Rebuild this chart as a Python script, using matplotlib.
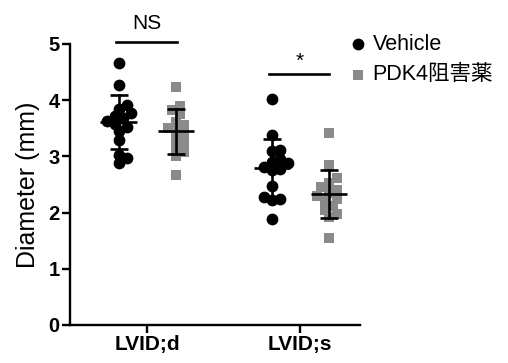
import numpy as np
import matplotlib
matplotlib.use("Agg")
import matplotlib.pyplot as plt

plt.rcParams['font.family'] = ['Liberation Sans', 'Noto Sans CJK JP', 'DejaVu Sans']

# data (mm)
categories = ['LVID;d', 'LVID;s']
groups = ['Vehicle', 'PDK4阻害薬']
vehicle_d = [4.67, 4.27, 3.92, 3.85, 3.78, 3.72, 3.68, 3.63, 3.58, 3.52, 3.45, 3.30, 3.02, 2.97, 2.88]
pdk4_d = [4.24, 3.90, 3.82, 3.75, 3.62, 3.55, 3.50, 3.45, 3.40, 3.30, 3.22, 3.15, 3.08, 3.00, 2.67]
vehicle_s = [4.02, 3.38, 3.12, 3.10, 2.95, 2.90, 2.88, 2.82, 2.78, 2.75, 2.47, 2.28, 2.25, 2.22, 1.88]
pdk4_s = [3.42, 2.85, 2.62, 2.52, 2.45, 2.40, 2.35, 2.30, 2.25, 2.20, 2.12, 2.05, 1.98, 1.92, 1.55]
marks = ['NS', '*']


def swarm(values, step_x, min_dist, y_scale):
    # simple beeswarm: place each point at the closest free offset
    order = np.argsort(values)
    placed = []
    offsets = np.zeros(len(values))
    for idx in order:
        y = values[idx] * y_scale
        k = 0
        while True:
            cands = [0] if k == 0 else [k, -k]
            ok = None
            for c in cands:
                x = c * step_x
                if all((x - px) ** 2 + (y - py) ** 2 >= min_dist ** 2 for px, py in placed):
                    ok = x
                    break
            if ok is not None:
                break
            k += 1
        placed.append((ok, y))
        offsets[idx] = ok
    return offsets


fig = plt.figure(figsize=(5.08, 3.63), dpi=100)
ax = fig.add_axes([70 / 508, 38 / 363, 290 / 508, 281 / 363])

px_per_unit_x = 153.0
px_per_unit_y = 56.2
half = 28.5 / px_per_unit_x

series = [
    (0 - half, vehicle_d, 'o', 'black', 72),
    (0 + half, pdk4_d, 's', '#8a8a8a', 62),
    (1 - half, vehicle_s, 'o', 'black', 72),
    (1 + half, pdk4_s, 's', '#8a8a8a', 62),
]

handles = []
for i, (xc, vals, mk, col, sz) in enumerate(series):
    vals = np.array(vals)
    off = swarm(vals, 4.0, 7.5, px_per_unit_y) / px_per_unit_x
    h = ax.scatter(xc + off, vals, marker=mk, s=sz, color=col, linewidths=0, zorder=2)
    if i < 2:
        handles.append(h)
    m = vals.mean()
    sd = vals.std(ddof=1)
    mw = 18 / px_per_unit_x
    cw = 9 / px_per_unit_x
    ax.plot([xc - mw, xc + mw], [m, m], color='black', lw=1.9, zorder=3, solid_capstyle='butt')
    ax.plot([xc, xc], [m - sd, m + sd], color='black', lw=1.9, zorder=3)
    ax.plot([xc - cw, xc + cw], [m + sd, m + sd], color='black', lw=1.9, zorder=3, solid_capstyle='butt')
    ax.plot([xc - cw, xc + cw], [m - sd, m - sd], color='black', lw=1.9, zorder=3, solid_capstyle='butt')

# significance brackets
ax.plot([-0.203, 0.196], [5.04, 5.04], color='black', lw=1.9, clip_on=False)
ax.text(0, 5.2, marks[0], ha='center', va='bottom', fontsize=15)
ax.plot([0.797, 1.19], [4.47, 4.47], color='black', lw=1.9, clip_on=False)
ax.text(1.0, 4.52, marks[1], ha='center', va='bottom', fontsize=15)

ax.set_xlim(-77 / px_per_unit_x, 1 + 60 / px_per_unit_x)
ax.set_ylim(0, 5)
ax.set_yticks([0, 1, 2, 3, 4, 5])
ax.set_xticks([0, 1])
ax.set_xticklabels(categories, fontsize=15, fontweight='bold')
for t in ax.get_yticklabels():
    t.set_fontsize(14.5)
    t.set_fontweight('bold')
ax.set_ylabel('Diameter (mm)', fontsize=18, labelpad=6)

for s in ['top', 'right']:
    ax.spines[s].set_visible(False)
for s in ['left', 'bottom']:
    ax.spines[s].set_linewidth(1.7)
ax.tick_params(width=1.7, length=5.5, pad=2)

fig.legend(handles, groups, loc='upper left', bbox_to_anchor=(336 / 508, 1 - 25 / 363),
           frameon=False, fontsize=15.5, handletextpad=0.1, labelspacing=0.45,
           borderaxespad=0, handlelength=1.2)

fig.savefig('out.png', dpi=100)
